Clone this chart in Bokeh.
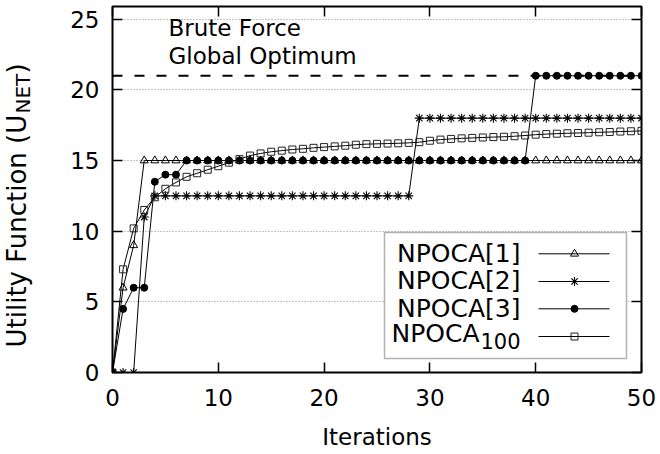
import math
from bokeh.plotting import figure
from bokeh.models import (FixedTicker, LinearAxis, Label, Span, BoxAnnotation,
                          Range1d, CustomLabelingPolicy)
from bokeh.embed import file_html
from bokeh.resources import INLINE

# ---------------- data ----------------
iterations = list(range(51))

npoca1 = [0, 6, 9, 15, 15, 15, 15, 15, 15, 15,
          15, 15, 15, 15, 15, 15, 15, 15, 15, 15,
          15, 15, 15, 15, 15, 15, 15, 15, 15, 15,
          15, 15, 15, 15, 15, 15, 15, 15, 15, 15,
          15, 15, 15, 15, 15, 15, 15, 15, 15, 15, 15]

npoca2 = [0, 0, 0, 11, 12.5, 12.5, 12.5, 12.5, 12.5, 12.5,
          12.5, 12.5, 12.5, 12.5, 12.5, 12.5, 12.5, 12.5, 12.5, 12.5,
          12.5, 12.5, 12.5, 12.5, 12.5, 12.5, 12.5, 12.5, 12.5, 18,
          18, 18, 18, 18, 18, 18, 18, 18, 18, 18,
          18, 18, 18, 18, 18, 18, 18, 18, 18, 18, 18]

npoca3 = [0, 4.5, 6, 6, 13.5, 14, 14, 15, 15, 15,
          15, 15, 15, 15, 15, 15, 15, 15, 15, 15,
          15, 15, 15, 15, 15, 15, 15, 15, 15, 15,
          15, 15, 15, 15, 15, 15, 15, 15, 15, 15,
          21, 21, 21, 21, 21, 21, 21, 21, 21, 21, 21]

npoca100 = [0, 7.3, 10.2, 11.5, 12.4, 13.0, 13.45, 13.85, 14.1, 14.35,
            14.6, 14.85, 15.1, 15.35, 15.5, 15.62, 15.7, 15.78, 15.83, 15.9,
            15.95, 16.0, 16.05, 16.12, 16.16, 16.18, 16.2, 16.22, 16.25, 16.3,
            16.4, 16.48, 16.53, 16.57, 16.6, 16.63, 16.66, 16.68, 16.72, 16.77,
            16.83, 16.87, 16.9, 16.93, 16.95, 16.97, 17.0, 17.02, 17.05, 17.07, 17.1]

x_ticks = [0, 10, 20, 30, 40, 50]
y_ticks = [0, 5, 10, 15, 20, 25]
y_top = 25.9
optimum = 21

x_title = "Iterations"
y_title_main = "Utility Function (U"
y_title_sub = "NET"
y_title_end = ")"
optimum_text = ["Brute Force", "Global Optimum"]
legend_names = ["NPOCA[1]", "NPOCA[2]", "NPOCA[3]"]
legend_last_main = "NPOCA"
legend_last_sub = "100"

FONT = "DejaVu Sans"
FS = "23px"

# ---------------- layout (pixels) ----------------
W, H = 660, 454
FL, FR, FT, FB = 112, 641, 6, 372          # frame edges on the canvas

p = figure(width=W, height=H,
           x_range=Range1d(x_ticks[0], x_ticks[-1]),
           y_range=Range1d(y_ticks[0], y_top),
           output_backend="svg", toolbar_location=None,
           min_border_left=FL, min_border_right=W - FR,
           min_border_top=FT, min_border_bottom=H - FB)
p.background_fill_color = "white"
p.border_fill_color = "white"
p.outline_line_color = "black"
p.outline_line_width = 2

p.xgrid.grid_line_color = None
p.ygrid.grid_line_color = "#8c8c8c"
p.ygrid.grid_line_dash = "1 2"
p.ygrid.grid_line_width = 1

hide_all = CustomLabelingPolicy(code="for (const i of indices) { indices.unset(i) }\nreturn indices")


def style_axis(ax, ticks, show_labels):
    ax.ticker = FixedTicker(ticks=ticks)
    ax.axis_line_color = None
    ax.major_tick_in = 10
    ax.major_tick_out = 0
    ax.major_tick_line_color = "black"
    ax.major_tick_line_width = 1.5
    ax.minor_tick_line_color = None
    if show_labels:
        ax.major_label_text_font = FONT
        ax.major_label_text_font_size = FS
        ax.major_label_text_color = "black"
    else:
        ax.major_label_policy = hide_all
        ax.major_label_text_font_size = "1px"
        ax.major_label_standoff = 0


style_axis(p.xaxis[0], x_ticks, True)
style_axis(p.yaxis[0], y_ticks, True)
p.xaxis[0].major_label_standoff = 16
p.yaxis[0].major_label_standoff = 13
p.xaxis[0].axis_label = x_title
p.xaxis[0].axis_label_text_font = FONT
p.xaxis[0].axis_label_text_font_size = FS
p.xaxis[0].axis_label_text_font_style = "normal"
p.xaxis[0].axis_label_text_color = "black"
p.xaxis[0].axis_label_standoff = 15

top_axis = LinearAxis()
style_axis(top_axis, x_ticks, False)
p.add_layout(top_axis, "above")
right_axis = LinearAxis()
style_axis(right_axis, y_ticks, False)
p.add_layout(right_axis, "right")

# brute force optimum
p.add_layout(Span(location=optimum, dimension="width", line_color="black",
                  line_width=2, line_dash="10 12", level="underlay"))

# legend box (below the data, above the grid)
p.add_layout(BoxAnnotation(left=384, right=626, top=232, bottom=358,
                           left_units="canvas", right_units="canvas",
                           top_units="canvas", bottom_units="canvas",
                           fill_color="white", fill_alpha=1.0,
                           line_color="black", line_width=1.5, level="underlay"))

# ---------------- series ----------------
series = [
    (npoca1, dict(marker="triangle", size=8, fill_color=None, line_color="black", line_width=1)),
    (npoca2, dict(marker="asterisk", size=9, line_color="black", line_width=1.1)),
    (npoca3, dict(marker="circle", size=7, fill_color="black", line_color="black")),
    (npoca100, dict(marker="square", size=7, fill_color=None, line_color="#222222", line_width=1)),
]
for ys, mstyle in series:
    p.line(iterations, ys, line_color="black", line_width=1)
    p.scatter(iterations, ys, **mstyle)


# ---------------- legend samples (gnuplot style: text left, sample right) ----------------
def px_to_x(px):
    return x_ticks[0] + (px - FL) * (x_ticks[-1] - x_ticks[0]) / (FR - FL)


def px_to_y(py):
    return y_ticks[0] + (FB - py) * (y_top - y_ticks[0]) / (FB - FT)


legend_rows_px = [253.3, 281.0, 308.3, 336.0]
sample_x_px = (538, 609)
sample_mid_px = 574
for (ys, mstyle), row in zip(series, legend_rows_px):
    yy = px_to_y(row)
    p.line([px_to_x(sample_x_px[0]), px_to_x(sample_x_px[1])], [yy, yy],
           line_color="black", line_width=1)
    p.scatter([px_to_x(sample_mid_px)], [yy], **mstyle)

legend_baselines = [252.7, 280.3, 307.7]
for name, yb in zip(legend_names, legend_baselines):
    p.add_layout(Label(x=520, y=yb, x_units="canvas", y_units="canvas",
                       text=name, text_align="right", text_baseline="alphabetic",
                       text_font=FONT, text_font_size="25px", text_color="black"))
p.add_layout(Label(x=520, y=340, x_units="canvas", y_units="canvas",
                   text=legend_last_sub, text_align="right", text_baseline="alphabetic",
                   text_font=FONT, text_font_size="21px", text_color="black"))
p.add_layout(Label(x=479, y=332.7, x_units="canvas", y_units="canvas",
                   text=legend_last_main, text_align="right", text_baseline="alphabetic",
                   text_font=FONT, text_font_size="25px", text_color="black"))

# optimum annotation text
for txt, yb in zip(optimum_text, [27, 55.5]):
    p.add_layout(Label(x=168, y=yb, x_units="canvas", y_units="canvas",
                       text=txt, text_align="left", text_baseline="alphabetic",
                       text_font=FONT, text_font_size=FS, text_color="black"))

# y-axis title with subscript (rotated, drawn in the left panel so it is not clipped)
nbsp = "\u00a0"
main_len = 234
y_start = 347
p.add_layout(Label(x=16, y=y_start, x_units="canvas", y_units="canvas",
                   text=y_title_main + nbsp * 5 + y_title_end, angle=math.pi / 2,
                   text_align="left", text_baseline="alphabetic", text_font=FONT,
                   text_font_size="26px", text_color="black"), "left")
p.add_layout(Label(x=22, y=y_start - main_len, x_units="canvas", y_units="canvas",
                   text=y_title_sub, angle=math.pi / 2, text_align="left",
                   text_baseline="alphabetic", text_font=FONT, text_font_size="20px",
                   text_color="black"), "left")

open("out.html", "w").write(file_html(p, INLINE))
